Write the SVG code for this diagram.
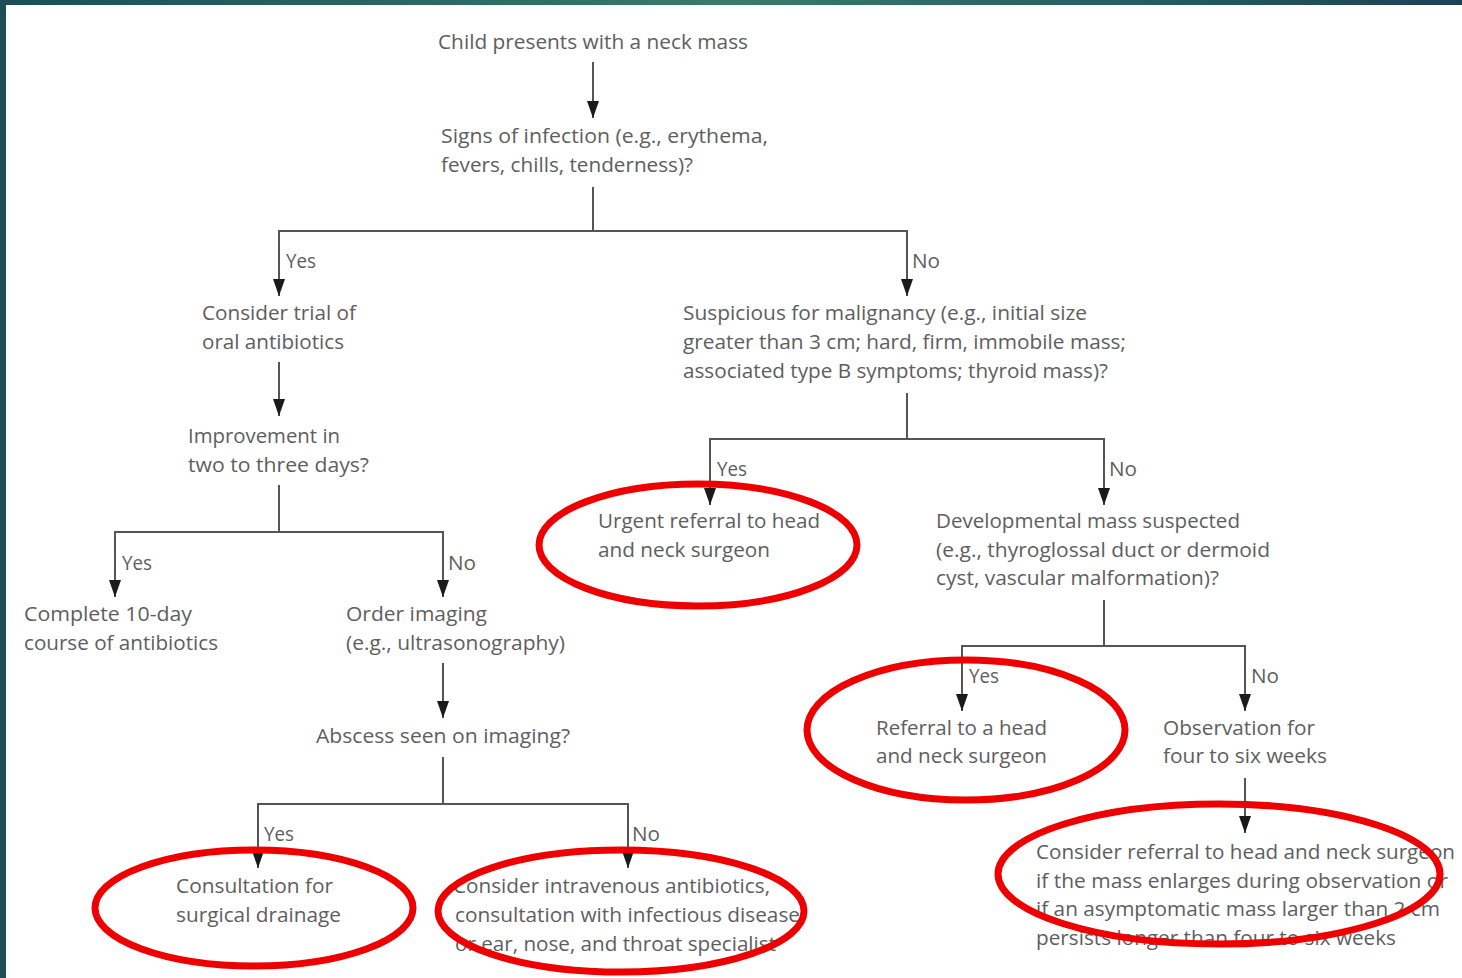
<svg xmlns="http://www.w3.org/2000/svg" width="1462" height="978" viewBox="0 0 1462 978">
<defs>
<linearGradient id="topbar" x1="0" y1="0" x2="1" y2="0">
<stop offset="0" stop-color="#1d4d56"/>
<stop offset="0.5" stop-color="#3b7a6c"/>
<stop offset="1" stop-color="#1b4257"/>
</linearGradient>
<marker id="arrv" markerUnits="userSpaceOnUse" markerWidth="18" markerHeight="12" refX="17" refY="6" orient="auto" viewBox="0 0 18 12">
<path d="M0,0 L17,6 L0,12 Z" fill="#1a1a1a"/>
</marker>
</defs>
<style>
text{font-family:"Open Sans","Noto Sans","Liberation Sans",sans-serif;font-size:20px;fill:#5e5e5e}
.lbl{font-size:20px}
.c{fill:none;stroke:#555;stroke-width:2}
.a{marker-end:url(#arrv)}
.hl{fill:none;stroke:#ee0000;stroke-width:7}
</style>
<rect x="0" y="0" width="1462" height="978" fill="#ffffff"/>
<rect x="0" y="0" width="6" height="978" fill="#1d4d56"/>
<rect x="0" y="0" width="1462" height="5" fill="url(#topbar)"/>

<g id="connectors">
<path class="c a" d="M593,62 V118"/>
<path class="c" d="M593,187 V231"/>
<path class="c a" d="M593,231 H279 V296"/>
<path class="c a" d="M593,231 H907 V296"/>
<path class="c a" d="M279,362 V416"/>
<path class="c" d="M279,485 V532"/>
<path class="c a" d="M279,532 H115 V597"/>
<path class="c a" d="M279,532 H443 V597"/>
<path class="c a" d="M443,663 V718"/>
<path class="c" d="M443,757 V804"/>
<path class="c a" d="M443,804 H258 V868"/>
<path class="c a" d="M443,804 H628 V868"/>
<path class="c" d="M907,393 V439"/>
<path class="c a" d="M907,439 H710 V505"/>
<path class="c a" d="M907,439 H1104 V505"/>
<path class="c" d="M1104,600 V646"/>
<path class="c a" d="M1104,646 H962 V711"/>
<path class="c a" d="M1104,646 H1245 V711"/>
<path class="c a" d="M1245,778 V833"/>
<text class="lbl" x="286" y="268" textLength="30" lengthAdjust="spacingAndGlyphs">Yes</text>
<text class="lbl" x="912" y="268" textLength="28" lengthAdjust="spacingAndGlyphs">No</text>
<text class="lbl" x="122" y="570" textLength="30" lengthAdjust="spacingAndGlyphs">Yes</text>
<text class="lbl" x="448" y="570" textLength="28" lengthAdjust="spacingAndGlyphs">No</text>
<text class="lbl" x="264" y="841" textLength="30" lengthAdjust="spacingAndGlyphs">Yes</text>
<text class="lbl" x="632" y="841" textLength="28" lengthAdjust="spacingAndGlyphs">No</text>
<text class="lbl" x="717" y="476" textLength="30" lengthAdjust="spacingAndGlyphs">Yes</text>
<text class="lbl" x="1109" y="476" textLength="28" lengthAdjust="spacingAndGlyphs">No</text>
<text class="lbl" x="969" y="683" textLength="30" lengthAdjust="spacingAndGlyphs">Yes</text>
<text class="lbl" x="1251" y="683" textLength="28" lengthAdjust="spacingAndGlyphs">No</text>
</g>

<g id="n-start"><text x="438" y="49" textLength="310" lengthAdjust="spacingAndGlyphs">Child presents with a neck mass</text></g>
<g id="n-infection">
<text x="441" y="143" textLength="327" lengthAdjust="spacingAndGlyphs">Signs of infection (e.g., erythema,</text>
<text x="441" y="172" textLength="252" lengthAdjust="spacingAndGlyphs">fevers, chills, tenderness)?</text>
</g>
<g id="n-antibiotics">
<text x="202" y="320" textLength="154" lengthAdjust="spacingAndGlyphs">Consider trial of</text>
<text x="202" y="349" textLength="142" lengthAdjust="spacingAndGlyphs">oral antibiotics</text>
</g>
<g id="n-improvement">
<text x="188" y="443" textLength="152" lengthAdjust="spacingAndGlyphs">Improvement in</text>
<text x="188" y="472" textLength="181" lengthAdjust="spacingAndGlyphs">two to three days?</text>
</g>
<g id="n-complete">
<text x="24" y="621" textLength="168" lengthAdjust="spacingAndGlyphs">Complete 10-day</text>
<text x="24" y="650" textLength="194" lengthAdjust="spacingAndGlyphs">course of antibiotics</text>
</g>
<g id="n-imaging">
<text x="346" y="621" textLength="141" lengthAdjust="spacingAndGlyphs">Order imaging</text>
<text x="346" y="650" textLength="219" lengthAdjust="spacingAndGlyphs">(e.g., ultrasonography)</text>
</g>
<g id="n-abscess"><text x="316" y="743" textLength="254" lengthAdjust="spacingAndGlyphs">Abscess seen on imaging?</text></g>
<g id="n-drainage">
<text x="176" y="893" textLength="157" lengthAdjust="spacingAndGlyphs">Consultation for</text>
<text x="176" y="922" textLength="165" lengthAdjust="spacingAndGlyphs">surgical drainage</text>
</g>
<g id="n-iv">
<text x="453" y="893" textLength="317" lengthAdjust="spacingAndGlyphs">Consider intravenous antibiotics,</text>
<text x="455" y="922" textLength="345" lengthAdjust="spacingAndGlyphs">consultation with infectious disease</text>
<text x="455" y="951" textLength="321" lengthAdjust="spacingAndGlyphs">or ear, nose, and throat specialist</text>
</g>
<g id="n-malignancy">
<text x="683" y="320" textLength="404" lengthAdjust="spacingAndGlyphs">Suspicious for malignancy (e.g., initial size</text>
<text x="683" y="349" textLength="443" lengthAdjust="spacingAndGlyphs">greater than 3 cm; hard, firm, immobile mass;</text>
<text x="683" y="378" textLength="425" lengthAdjust="spacingAndGlyphs">associated type B symptoms; thyroid mass)?</text>
</g>
<g id="n-urgent">
<text x="598" y="528" textLength="222" lengthAdjust="spacingAndGlyphs">Urgent referral to head</text>
<text x="598" y="557" textLength="172" lengthAdjust="spacingAndGlyphs">and neck surgeon</text>
</g>
<g id="n-developmental">
<text x="936" y="528" textLength="304" lengthAdjust="spacingAndGlyphs">Developmental mass suspected</text>
<text x="936" y="557" textLength="334" lengthAdjust="spacingAndGlyphs">(e.g., thyroglossal duct or dermoid</text>
<text x="936" y="585" textLength="283" lengthAdjust="spacingAndGlyphs">cyst, vascular malformation)?</text>
</g>
<g id="n-referral">
<text x="876" y="735" textLength="171" lengthAdjust="spacingAndGlyphs">Referral to a head</text>
<text x="876" y="763" textLength="171" lengthAdjust="spacingAndGlyphs">and neck surgeon</text>
</g>
<g id="n-observation">
<text x="1163" y="735" textLength="152" lengthAdjust="spacingAndGlyphs">Observation for</text>
<text x="1163" y="763" textLength="164" lengthAdjust="spacingAndGlyphs">four to six weeks</text>
</g>
<g id="n-consider">
<text x="1036" y="859" textLength="419" lengthAdjust="spacingAndGlyphs">Consider referral to head and neck surgeon</text>
<text x="1036" y="888" textLength="412" lengthAdjust="spacingAndGlyphs">if the mass enlarges during observation or</text>
<text x="1036" y="916" textLength="404" lengthAdjust="spacingAndGlyphs">if an asymptomatic mass larger than 2 cm</text>
<text x="1036" y="945" textLength="360" lengthAdjust="spacingAndGlyphs">persists longer than four to six weeks</text>
</g>

<g id="highlights">
<ellipse class="hl" cx="698" cy="545" rx="159" ry="61"/>
<ellipse class="hl" cx="966" cy="730" rx="159" ry="70"/>
<ellipse class="hl" cx="254" cy="908" rx="159" ry="58"/>
<ellipse class="hl" cx="621" cy="911" rx="183" ry="61"/>
<ellipse class="hl" cx="1219" cy="874" rx="221" ry="70"/>
</g>
</svg>
